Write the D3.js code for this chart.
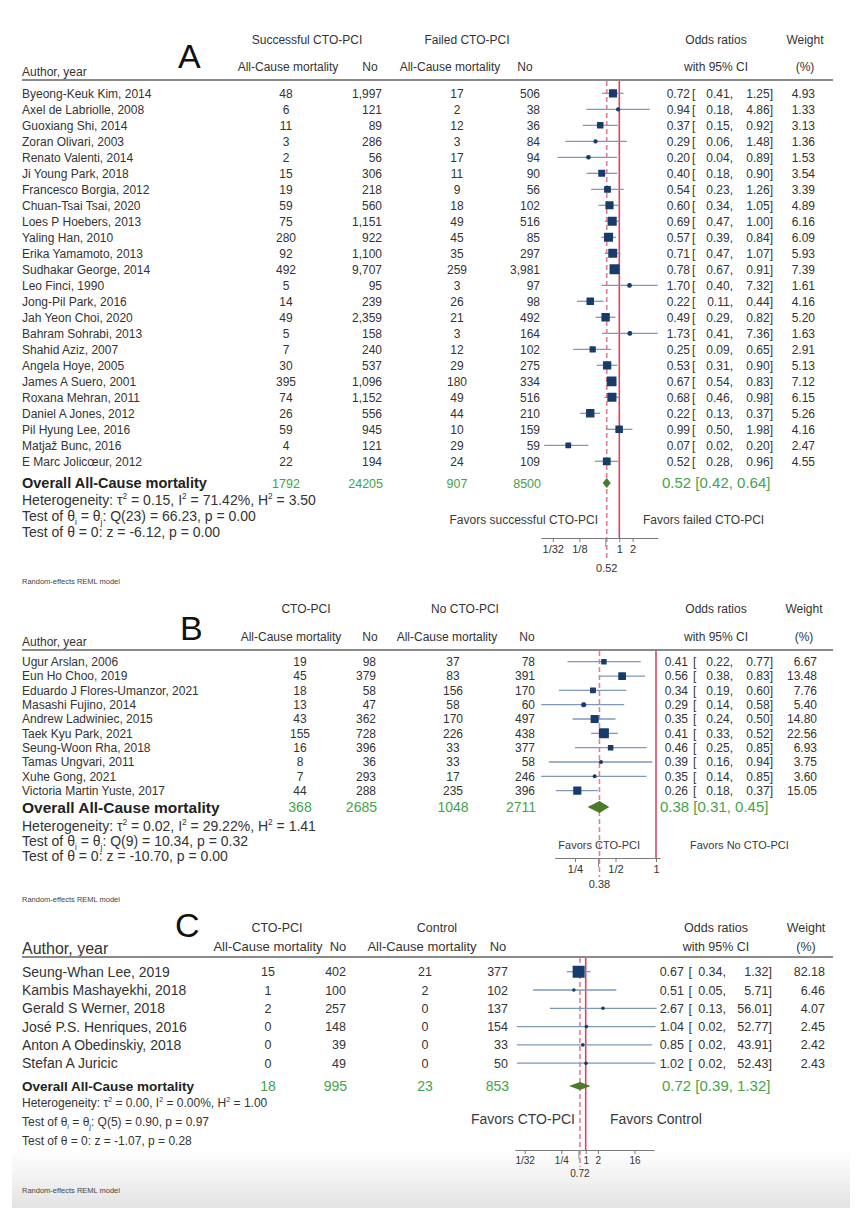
<!DOCTYPE html>
<html>
<head>
<meta charset="utf-8">
<script src="https://cdn.jsdelivr.net/npm/d3@7"></script>
<style>
  body { margin: 0; background: #fff; }
  svg { display: block; font-family: "Liberation Sans", Arial, sans-serif; }
</style>
</head>
<body>
<svg id="chart" width="862" height="1224"></svg>
<script>
// ---------- panel A: successful vs failed CTO-PCI ----------
const authorsA = [
  "Byeong-Keuk Kim, 2014", "Axel de Labriolle, 2008", "Guoxiang Shi, 2014", "Zoran Olivari, 2003",
  "Renato Valenti, 2014", "Ji Young Park, 2018", "Francesco Borgia, 2012", "Chuan-Tsai Tsai, 2020",
  "Loes P Hoebers, 2013", "Yaling Han, 2010", "Erika Yamamoto, 2013", "Sudhakar George, 2014",
  "Leo Finci, 1990", "Jong-Pil Park, 2016", "Jah Yeon Choi, 2020", "Bahram Sohrabi, 2013",
  "Shahid Aziz, 2007", "Angela Hoye, 2005", "James A Suero, 2001", "Roxana Mehran, 2011",
  "Daniel A Jones, 2012", "Pil Hyung Lee, 2016", "Matjaž Bunc, 2016", "E Marc Jolicœur, 2012"
];
const deathsA1 = [48, 6, 11, 3, 2, 15, 19, 59, 75, 280, 92, 492, 5, 14, 49, 5, 7, 30, 395, 74, 26, 59, 4, 22];
const totalA1 = [1997, 121, 89, 286, 56, 306, 218, 560, 1151, 922, 1100, 9707, 95, 239, 2359, 158, 240, 537, 1096, 1152, 556, 945, 121, 194];
const deathsA2 = [17, 2, 12, 3, 17, 11, 9, 18, 49, 45, 35, 259, 3, 26, 21, 3, 12, 29, 180, 49, 44, 10, 29, 24];
const totalA2 = [506, 38, 36, 84, 94, 90, 56, 102, 516, 85, 297, 3981, 97, 98, 492, 164, 102, 275, 334, 516, 210, 159, 59, 109];
const orA = [0.72, 0.94, 0.37, 0.29, 0.20, 0.40, 0.54, 0.60, 0.69, 0.57, 0.71, 0.78, 1.70, 0.22, 0.49, 1.73, 0.25, 0.53, 0.67, 0.68, 0.22, 0.99, 0.07, 0.52];
const lowA = [0.41, 0.18, 0.15, 0.06, 0.04, 0.18, 0.23, 0.34, 0.47, 0.39, 0.47, 0.67, 0.40, 0.11, 0.29, 0.41, 0.09, 0.31, 0.54, 0.46, 0.13, 0.50, 0.02, 0.28];
const highA = [1.25, 4.86, 0.92, 1.48, 0.89, 0.90, 1.26, 1.05, 1.00, 0.84, 1.07, 0.91, 7.32, 0.44, 0.82, 7.36, 0.65, 0.90, 0.83, 0.98, 0.37, 1.98, 0.20, 0.96];
const weightA = [4.93, 1.33, 3.13, 1.36, 1.53, 3.54, 3.39, 4.89, 6.16, 6.09, 5.93, 7.39, 1.61, 4.16, 5.20, 1.63, 2.91, 5.13, 7.12, 6.15, 5.26, 4.16, 2.47, 4.55];
const sumsA = [1792, 24205, 907, 8500];
const overallA = [0.52, 0.42, 0.64];
const hetA = [0.15, 71.42, 3.50, 23, 66.23, 0.00, -6.12, 0.00];
const groupsA = ["Successful CTO-PCI", "Failed CTO-PCI"];
const favorsA = ["Favors successful CTO-PCI", "Favors failed CTO-PCI"];
const ticksA = [1 / 32, 1 / 8, 1, 2];
const tickLabelsA = ["1/32", "1/8", "1", "2"];

// ---------- panel B: CTO-PCI vs no CTO-PCI ----------
const authorsB = [
  "Ugur Arslan, 2006", "Eun Ho Choo, 2019", "Eduardo J Flores-Umanzor, 2021", "Masashi Fujino, 2014",
  "Andrew Ladwiniec, 2015", "Taek Kyu Park, 2021", "Seung-Woon Rha, 2018", "Tamas Ungvari, 2011",
  "Xuhe Gong, 2021", "Victoria Martin Yuste, 2017"
];
const deathsB1 = [19, 45, 18, 13, 43, 155, 16, 8, 7, 44];
const totalB1 = [98, 379, 58, 47, 362, 728, 396, 36, 293, 288];
const deathsB2 = [37, 83, 156, 58, 170, 226, 33, 33, 17, 235];
const totalB2 = [78, 391, 170, 60, 497, 438, 377, 58, 246, 396];
const orB = [0.41, 0.56, 0.34, 0.29, 0.35, 0.41, 0.46, 0.39, 0.35, 0.26];
const lowB = [0.22, 0.38, 0.19, 0.14, 0.24, 0.33, 0.25, 0.16, 0.14, 0.18];
const highB = [0.77, 0.83, 0.60, 0.58, 0.50, 0.52, 0.85, 0.94, 0.85, 0.37];
const weightB = [6.67, 13.48, 7.76, 5.40, 14.80, 22.56, 6.93, 3.75, 3.60, 15.05];
const sumsB = [368, 2685, 1048, 2711];
const overallB = [0.38, 0.31, 0.45];
const hetB = [0.02, 29.22, 1.41, 9, 10.34, 0.32, -10.70, 0.00];
const groupsB = ["CTO-PCI", "No CTO-PCI"];
const favorsB = ["Favors CTO-PCI", "Favors No CTO-PCI"];
const ticksB = [1 / 4, 1 / 2, 1];
const tickLabelsB = ["1/4", "1/2", "1"];

// ---------- panel C: CTO-PCI vs control ----------
const authorsC = [
  "Seung-Whan Lee, 2019", "Kambis Mashayekhi, 2018", "Gerald S Werner, 2018",
  "José P.S. Henriques, 2016", "Anton A Obedinskiy, 2018", "Stefan A Juricic"
];
const deathsC1 = [15, 1, 2, 0, 0, 0];
const totalC1 = [402, 100, 257, 148, 39, 49];
const deathsC2 = [21, 2, 0, 0, 0, 0];
const totalC2 = [377, 102, 137, 154, 33, 50];
const orC = [0.67, 0.51, 2.67, 1.04, 0.85, 1.02];
const lowC = [0.34, 0.05, 0.13, 0.02, 0.02, 0.02];
const highC = [1.32, 5.71, 56.01, 52.77, 43.91, 52.43];
const weightC = [82.18, 6.46, 4.07, 2.45, 2.42, 2.43];
const sumsC = [18, 995, 23, 853];
const overallC = [0.72, 0.39, 1.32];
const hetC = [0.00, 0.00, 1.00, 5, 0.90, 0.97, -1.07, 0.28];
const groupsC = ["CTO-PCI", "Control"];
const favorsC = ["Favors CTO-PCI", "Favors Control"];
const ticksC = [1 / 32, 1 / 4, 1, 2, 16];
const tickLabelsC = ["1/32", "1/4", "1", "2", "16"];

// kleuren
const textCol = "#333";
const green = "#45a347";
const navy = "#173c6b";
const ciCol = "#7f98bb";
const redSolid = "#d9455f";
const redDash = "#eb7c96";

const svg = d3.select("#chart");
const f2 = (v) => d3.format(".2f")(v).replace("−", "-"); // gewoon streepje, zoals Stata
const fc = d3.format(",");

// grijze schaduw onderaan de foto
const grad = svg.append("defs").append("linearGradient")
  .attr("id", "fade").attr("x1", 0).attr("y1", 0).attr("x2", 0).attr("y2", 1);
grad.append("stop").attr("offset", "0%").attr("stop-color", "#fff");
grad.append("stop").attr("offset", "100%").attr("stop-color", "#e3e3e3");
svg.append("rect").attr("x", 12).attr("y", 1150).attr("width", 838).attr("height", 58).attr("fill", "url(#fade)");

function txt(g, x, y, s, size, anchor, fill, weight) {
  return g.append("text")
    .attr("x", x).attr("y", y)
    .attr("font-size", size)
    .attr("text-anchor", anchor || "start")
    .attr("fill", fill || textCol)
    .attr("font-weight", weight || "normal")
    .text(s);
}

// tekst met superscript / subscript stukjes
function richText(g, x, y, parts, size) {
  const t = g.append("text").attr("x", x).attr("y", y).attr("font-size", size).attr("fill", textCol);
  let shift = 0;
  parts.forEach(([s, kind]) => {
    const target = kind === "sup" ? -size * 0.4 : kind === "sub" ? size * 0.25 : 0;
    t.append("tspan")
      .attr("dy", target - shift)
      .attr("font-size", kind ? size * 0.6 : size)
      .text(s);
    shift = target;
  });
}

function panel(p) {
  const n = p.authors.length;
  const g = svg.append("g");

  const x = d3.scaleLog().base(2).domain(p.domain).range(p.range);
  const y = d3.scaleLinear().domain([0, n - 1]).range([p.top, p.top + (n - 1) * p.step]);
  const box = d3.scaleSqrt().domain([0, d3.max(p.weight)]).range([0, p.box]);

  // grote letter
  txt(g, p.letter[0], p.letter[1], p.name, 34, "start", "#111");

  // kopjes
  txt(g, p.groupX[0], p.h1, p.groups[0], p.hFs, "middle");
  txt(g, p.groupX[1], p.h1, p.groups[1], p.hFs, "middle");
  txt(g, p.orX, p.h1, "Odds ratios", p.hFs, "middle");
  txt(g, p.wX, p.h1, "Weight", p.hFs, "middle");
  txt(g, 22, p.authY, "Author, year", p.authFs);
  txt(g, p.subX[0], p.h2, "All-Cause mortality", p.h2Fs, "middle");
  txt(g, p.subX[1], p.h2, "No", p.h2Fs, "middle");
  txt(g, p.subX[2], p.h2, "All-Cause mortality", p.h2Fs, "middle");
  txt(g, p.subX[3], p.h2, "No", p.h2Fs, "middle");
  txt(g, p.orX, p.h2, "with 95% CI", p.hFs, "middle");
  txt(g, p.wX, p.h2, "(%)", p.hFs, "middle");

  g.append("line")
    .attr("x1", 22).attr("x2", 833).attr("y1", p.rule).attr("y2", p.rule)
    .attr("stroke", "#8a8a8a").attr("stroke-width", 2);

  // verticale lijnen: geen effect (1) en overall schatting
  g.append("line")
    .attr("x1", x(1)).attr("x2", x(1)).attr("y1", p.rule + 1).attr("y2", p.axisY)
    .attr("stroke", redSolid).attr("stroke-width", 1.6);
  g.append("line")
    .attr("x1", x(p.overall[0])).attr("x2", x(p.overall[0])).attr("y1", p.rule + 1).attr("y2", p.dashEnd)
    .attr("stroke", redDash).attr("stroke-width", 1.6).attr("stroke-dasharray", "5,3");

  // rijen
  const rows = g.selectAll("g.row").data(d3.range(n)).join("g").attr("class", "row");
  const base = (i) => y(i) + p.numFs * 0.36;
  const c = p.cols;

  rows.append("text").attr("x", 22).attr("y", (i) => y(i) + p.fs * 0.36).attr("font-size", p.fs).attr("fill", textCol)
    .text((i) => p.authors[i]);
  rows.append("text").attr("x", c[0]).attr("y", base).attr("font-size", p.numFs).attr("fill", textCol)
    .attr("text-anchor", "middle").text((i) => fc(p.d1[i]));
  rows.append("text").attr("x", c[1]).attr("y", base).attr("font-size", p.numFs).attr("fill", textCol)
    .attr("text-anchor", "end").text((i) => fc(p.n1[i]));
  rows.append("text").attr("x", c[2]).attr("y", base).attr("font-size", p.numFs).attr("fill", textCol)
    .attr("text-anchor", "middle").text((i) => fc(p.d2[i]));
  rows.append("text").attr("x", c[3]).attr("y", base).attr("font-size", p.numFs).attr("fill", textCol)
    .attr("text-anchor", "end").text((i) => fc(p.n2[i]));
  rows.append("text").attr("x", c[4]).attr("y", base).attr("font-size", p.numFs).attr("fill", textCol)
    .attr("text-anchor", "end").text((i) => f2(p.or[i]));
  rows.append("text").attr("x", c[5]).attr("y", base).attr("font-size", p.numFs).attr("fill", textCol)
    .text("[");
  rows.append("text").attr("x", c[6]).attr("y", base).attr("font-size", p.numFs).attr("fill", textCol)
    .attr("text-anchor", "end").text((i) => f2(p.lo[i]) + ",");
  rows.append("text").attr("x", c[7]).attr("y", base).attr("font-size", p.numFs).attr("fill", textCol)
    .attr("text-anchor", "end").text((i) => f2(p.hi[i]) + "]");
  rows.append("text").attr("x", c[8]).attr("y", base).attr("font-size", p.numFs).attr("fill", textCol)
    .attr("text-anchor", "end").text((i) => f2(p.weight[i]));

  // betrouwbaarheidsintervallen + vierkantjes
  rows.append("line")
    .attr("x1", (i) => x(p.lo[i])).attr("x2", (i) => x(p.hi[i]))
    .attr("y1", (i) => y(i)).attr("y2", (i) => y(i))
    .attr("stroke", ciCol).attr("stroke-width", 1.3);
  rows.append("rect")
    .attr("x", (i) => x(p.or[i]) - Math.max(3.6, box(p.weight[i])) / 2)
    .attr("y", (i) => y(i) - Math.max(3.6, box(p.weight[i])) / 2)
    .attr("width", (i) => Math.max(3.6, box(p.weight[i])))
    .attr("height", (i) => Math.max(3.6, box(p.weight[i])))
    .attr("rx", (i) => (box(p.weight[i]) < 5 ? 2 : 0.5))
    .attr("fill", navy);

  // overall rij
  const oy = p.overallY;
  txt(g, 22, oy + p.ovFs * 0.36, "Overall All-Cause mortality", p.ovFs, "start", "#222", "bold");
  txt(g, c[0], oy + p.sumFs * 0.36, p.sums[0], p.sumFs, "middle", green);
  txt(g, c[1] + 1, oy + p.sumFs * 0.36, p.sums[1], p.sumFs, "end", green);
  txt(g, c[2], oy + p.sumFs * 0.36, p.sums[2], p.sumFs, "middle", green);
  txt(g, c[3] + 1, oy + p.sumFs * 0.36, p.sums[3], p.sumFs, "end", green);
  txt(g, p.ovEstX, oy + 15 * 0.36,
    f2(p.overall[0]) + " [" + f2(p.overall[1]) + ", " + f2(p.overall[2]) + "]", 15, "start", green);

  const dh = p.diamond / 2;
  g.append("path")
    .attr("d", d3.line()([
      [x(p.overall[1]), oy], [x(p.overall[0]), oy - dh],
      [x(p.overall[2]), oy], [x(p.overall[0]), oy + dh]
    ]) + "Z")
    .attr("fill", "#4b7a2a");

  // heterogeniteit
  const h = p.het;
  richText(g, 22, p.hetY[0], [
    ["Heterogeneity: τ"], ["2", "sup"], [" = " + f2(h[0]) + ", I"], ["2", "sup"],
    [" = " + f2(h[1]) + "%, H"], ["2", "sup"], [" = " + f2(h[2])]
  ], p.hetFs);
  richText(g, 22, p.hetY[1], [
    ["Test of θ"], ["i", "sub"], [" = θ"], ["j", "sub"],
    [": Q(" + h[3] + ") = " + f2(h[4]) + ", p = " + f2(h[5])]
  ], p.hetFs);
  richText(g, 22, p.hetY[2], [
    ["Test of θ = 0: z = " + f2(h[6]) + ", p = " + f2(h[7])]
  ], p.hetFs);

  // favors
  txt(g, p.favX[0], p.favY, p.favors[0], p.favFs, "end", "#3a3a3a");
  txt(g, p.favX[1], p.favY, p.favors[1], p.favFs, "start", "#3a3a3a");

  // x-as
  const axis = d3.axisBottom(x)
    .tickValues(p.ticks)
    .tickFormat((d, i) => p.tickLabels[i])
    .tickSize(4)
    .tickSizeOuter(0);
  const ax = g.append("g").attr("transform", "translate(0," + p.axisY + ")").call(axis);
  ax.attr("font-family", null);
  ax.select(".domain").attr("stroke", "#7a7a7a");
  ax.selectAll(".tick line").attr("stroke", "#7a7a7a");
  ax.selectAll(".tick text").attr("font-size", p.tickFs).attr("fill", textCol);

  g.append("line")
    .attr("x1", x(p.overall[0]) - 1).attr("x2", x(p.overall[0]) - 1)
    .attr("y1", p.axisY).attr("y2", p.axisY + 9)
    .attr("stroke", "#8a8a8a");
  txt(g, x(p.overall[0]), p.estLabY, f2(p.overall[0]), p.tickFs, "middle");

  txt(g, 22, p.modelY, "Random-effects REML model", 7.5, "start", "#444");
}

panel({
  name: "A", authors: authorsA, d1: deathsA1, n1: totalA1, d2: deathsA2, n2: totalA2,
  or: orA, lo: lowA, hi: highA, weight: weightA, sums: sumsA, overall: overallA, het: hetA,
  groups: groupsA, favors: favorsA, ticks: ticksA, tickLabels: tickLabelsA,
  domain: [Math.pow(2, -5.9), Math.pow(2, 2.9)], range: [540.8, 657.9],
  letter: [178, 68], h1: 44, h2: 71, authY: 76, rule: 80, hFs: 12, h2Fs: 12, authFs: 12,
  groupX: [307, 467], subX: [288, 370, 450, 525], orX: 716, wX: 805,
  top: 93.3, step: 16, fs: 12, numFs: 12, box: 10,
  cols: [286, 382, 457, 540, 690, 692, 733, 773, 815],
  overallY: 483, ovFs: 14.5, sumFs: 12.5, ovEstX: 662, diamond: 10,
  hetY: [505, 521, 537], hetFs: 14,
  favX: [598, 643], favY: 524, favFs: 12,
  axisY: 538, tickFs: 11, estLabY: 572, dashEnd: 561, modelY: 584
});

panel({
  name: "B", authors: authorsB, d1: deathsB1, n1: totalB1, d2: deathsB2, n2: totalB2,
  or: orB, lo: lowB, hi: highB, weight: weightB, sums: sumsB, overall: overallB, het: hetB,
  groups: groupsB, favors: favorsB, ticks: ticksB, tickLabels: tickLabelsB,
  domain: [Math.pow(2, -2.5), Math.pow(2, 0.1)], range: [656 - 2.5 * 40.5, 656 + 0.1 * 40.5],
  letter: [180, 640], h1: 613, h2: 641, authY: 646, rule: 650, hFs: 12, h2Fs: 12, authFs: 12,
  groupX: [306, 465], subX: [291, 370, 447, 527], orX: 716, wX: 804,
  top: 661.7, step: 14.33, fs: 12, numFs: 12, box: 10,
  cols: [300, 376, 453, 535, 688, 693, 733, 773, 817],
  overallY: 807, ovFs: 15.5, sumFs: 14, ovEstX: 660, diamond: 12,
  hetY: [831, 846, 861], hetFs: 14,
  favX: [640, 690], favY: 849, favFs: 11,
  axisY: 858, tickFs: 11, estLabY: 888, dashEnd: 877, modelY: 902
});

panel({
  name: "C", authors: authorsC, d1: deathsC1, n1: totalC1, d2: deathsC2, n2: totalC2,
  or: orC, lo: lowC, hi: highC, weight: weightC, sums: sumsC, overall: overallC, het: hetC,
  groups: groupsC, favors: favorsC, ticks: ticksC, tickLabels: tickLabelsC,
  domain: [Math.pow(2, -5.8), Math.pow(2, 5.6)], range: [585.7 - 5.8 * 12.2, 585.7 + 5.6 * 12.2],
  letter: [175, 937], h1: 932, h2: 951, authY: 954, rule: 957, hFs: 12.5, h2Fs: 13, authFs: 16,
  groupX: [277, 437], subX: [268, 338, 422, 498], orX: 716, wX: 806,
  top: 971.7, step: 18.3, fs: 14, numFs: 12.5, box: 12,
  cols: [268, 346, 425, 508, 684, 688.5, 726, 772, 825],
  overallY: 1086, ovFs: 13.5, sumFs: 14, ovEstX: 662, diamond: 8,
  hetY: [1107, 1126, 1145], hetFs: 12,
  favX: [575, 610], favY: 1124, favFs: 14,
  axisY: 1150, tickFs: 10, estLabY: 1177, dashEnd: 1167, modelY: 1193
});
</script>
</body>
</html>
